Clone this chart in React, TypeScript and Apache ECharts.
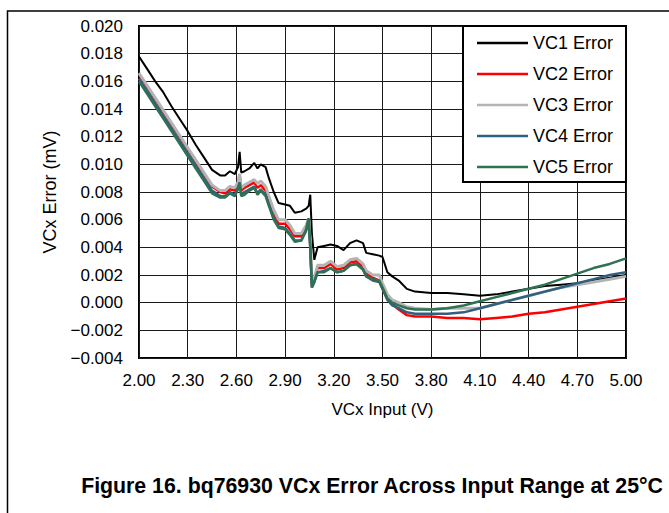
import React, { useEffect, useRef } from "react";
import * as echarts from "echarts";

const X_MIN = 2.0;
const X_MAX = 5.0;
const X_STEP = 0.3;
const Y_MIN = -0.004;
const Y_MAX = 0.02;
const Y_STEP = 0.002;

const seriesNames = ["VC1 Error", "VC2 Error", "VC3 Error", "VC4 Error", "VC5 Error"];
const seriesColors = ["#000000", "#ff0000", "#b4b4b4", "#30607f", "#2f7152"];
const seriesWidths = [2, 2.5, 3, 2.5, 2.5];

const vcxInput = [
  2.0, 2.05, 2.1, 2.15, 2.2, 2.25, 2.3, 2.35, 2.4, 2.45, 2.5, 2.53, 2.56, 2.59, 2.61, 2.62, 2.63, 2.65,
  2.68, 2.71, 2.73, 2.75, 2.78, 2.8, 2.83, 2.86, 2.9, 2.93, 2.96, 3.0, 3.03, 3.045, 3.055, 3.065, 3.08,
  3.1, 3.14, 3.18, 3.22, 3.26, 3.3, 3.34, 3.38, 3.4, 3.44, 3.48, 3.5, 3.53, 3.56, 3.6, 3.65, 3.7, 3.8,
  3.9, 4.0, 4.1, 4.2, 4.3, 4.4, 4.5, 4.6, 4.7, 4.8, 4.9, 5.0,
];

const vc1Error = [
  0.0178, 0.0169, 0.016, 0.0152, 0.0142, 0.0133, 0.0124, 0.0114, 0.0105, 0.0096, 0.0092, 0.0092, 0.0095,
  0.0093, 0.0098, 0.0109, 0.0094, 0.0095, 0.0097, 0.0101, 0.0097, 0.01, 0.0098, 0.009, 0.008, 0.0072,
  0.0071, 0.007, 0.0065, 0.0066, 0.0068, 0.007, 0.0078, 0.005, 0.0031, 0.004, 0.0041, 0.0042, 0.0041,
  0.0038, 0.0043, 0.0045, 0.0043, 0.0036, 0.0035, 0.0034, 0.0033, 0.0022, 0.0019, 0.0016, 0.001, 0.0008,
  0.0007, 0.0007, 0.0006, 0.0005, 0.0006, 0.0008, 0.001, 0.0012, 0.0013, 0.0014, 0.0016, 0.0018, 0.002,
];

const vc2Error = [
  0.0165, 0.0156, 0.0147, 0.0138, 0.0129, 0.012, 0.0111, 0.0102, 0.0093, 0.0084, 0.008, 0.0079, 0.0082,
  0.0081, 0.0086, 0.0093, 0.0081, 0.0083, 0.0085, 0.0087, 0.0083, 0.0085, 0.0081, 0.0074, 0.0064, 0.0057,
  0.0057, 0.0053, 0.0048, 0.0048, 0.0054, 0.0058, 0.0043, 0.0013, 0.0017, 0.0025, 0.0025, 0.0028, 0.0024,
  0.0025, 0.0029, 0.003, 0.0026, 0.0021, 0.0018, 0.0016, 0.001, 0.0003, -0.0001, -0.0005, -0.0009, -0.001,
  -0.001, -0.0011, -0.0011, -0.0012, -0.0011, -0.001, -0.0008, -0.0007, -0.0005, -0.0003, -0.0001, 0.0001,
  0.0003,
];

const vc3Error = [
  0.0166, 0.0157, 0.0148, 0.0139, 0.013, 0.0121, 0.0112, 0.0103, 0.0094, 0.0085, 0.0081, 0.0081, 0.0084,
  0.0083, 0.0087, 0.0093, 0.0083, 0.0085, 0.0087, 0.0089, 0.0086, 0.0088, 0.0084, 0.0077, 0.0067, 0.006,
  0.006, 0.0056, 0.005, 0.005, 0.0056, 0.0061, 0.0045, 0.0016, 0.0018, 0.0027, 0.0027, 0.003, 0.0026,
  0.0027, 0.0031, 0.0032, 0.0028, 0.0023, 0.002, 0.002, 0.0014, 0.0006, 0.0002, 0.0, -0.0003, -0.0004,
  -0.0005, -0.0004, -0.0004, -0.0004, -0.0001, 0.0002, 0.0005, 0.0008, 0.0011, 0.0013, 0.0015, 0.0017,
  0.0019,
];

const vc4Error = [
  0.0162, 0.0153, 0.0144, 0.0135, 0.0126, 0.0117, 0.0108, 0.0099, 0.009, 0.0081, 0.0077, 0.0077, 0.008,
  0.0078, 0.0083, 0.0087, 0.0078, 0.008, 0.0082, 0.0084, 0.0079, 0.0082, 0.0078, 0.0071, 0.0061, 0.0055,
  0.0054, 0.005, 0.0045, 0.0045, 0.0052, 0.006, 0.004, 0.0011, 0.0015, 0.0022, 0.0023, 0.0025, 0.0022,
  0.0023, 0.0027, 0.0028, 0.0024, 0.0019, 0.0016, 0.0015, 0.001, 0.0002, -0.0002, -0.0004, -0.0007,
  -0.0008, -0.0008, -0.0008, -0.0007, -0.0004, -0.0001, 0.0002, 0.0005, 0.0008, 0.0011, 0.0014, 0.0017,
  0.002, 0.0022,
];

const vc5Error = [
  0.016, 0.0151, 0.0142, 0.0133, 0.0124, 0.0115, 0.0106, 0.0097, 0.0088, 0.0079, 0.0076, 0.0076, 0.0079,
  0.0077, 0.0082, 0.0086, 0.0077, 0.0078, 0.0081, 0.0083, 0.0078, 0.0081, 0.0077, 0.007, 0.006, 0.0054,
  0.0053, 0.0049, 0.0044, 0.0045, 0.0053, 0.0061, 0.004, 0.0011, 0.0015, 0.0022, 0.0022, 0.0025, 0.0022,
  0.0023, 0.0027, 0.0028, 0.0024, 0.0019, 0.0017, 0.0016, 0.0011, 0.0003, 0.0, -0.0002, -0.0004, -0.0005,
  -0.0005, -0.0004, -0.0002, 0.0001, 0.0004, 0.0007, 0.001, 0.0013, 0.0017, 0.0021, 0.0025, 0.0028,
  0.0032,
];

const allSeries = [vc1Error, vc2Error, vc3Error, vc4Error, vc5Error];

const titleText = "Figure 16. bq76930 VCx Error Across Input Range at 25°C";
const FONT = "Arial, 'Liberation Sans', sans-serif";

export default function App() {
  const ref = useRef<HTMLDivElement>(null);

  useEffect(() => {
    document.body.style.margin = "0";
    if (!ref.current) return;
    const chart = echarts.init(ref.current, undefined, { renderer: "svg" });

    const option = {
      animation: false,
      backgroundColor: "#ffffff",
      textStyle: { fontFamily: FONT },
      grid: {
        left: 139,
        right: 43,
        top: 26,
        bottom: 155,
        show: true,
        borderColor: "#000",
        borderWidth: 2,
        backgroundColor: "transparent",
      },
      xAxis: {
        type: "value",
        min: 0,
        max: X_MAX - X_MIN,
        interval: X_STEP,
        name: "VCx Input (V)",
        nameLocation: "middle",
        nameGap: 43,
        nameTextStyle: { fontSize: 17, color: "#000", fontFamily: FONT },
        axisLine: { show: false },
        axisTick: { show: false },
        axisLabel: {
          fontSize: 17,
          color: "#000",
          margin: 14,
          fontFamily: FONT,
          formatter: (v: number) => (v + X_MIN).toFixed(2),
        },
        splitLine: { show: true, lineStyle: { color: "#1a1a1a", width: 1 } },
      },
      yAxis: {
        type: "value",
        min: Y_MIN,
        max: Y_MAX,
        interval: Y_STEP,
        name: "VCx Error (mV)",
        nameLocation: "middle",
        nameGap: 80,
        nameTextStyle: { fontSize: 18, color: "#000", fontFamily: FONT },
        axisLine: { show: false },
        axisTick: { show: false },
        axisLabel: {
          fontSize: 17,
          color: "#000",
          margin: 16,
          fontFamily: FONT,
          formatter: (v: number) => {
            const s = Math.abs(v).toFixed(3);
            return v < -1e-9 ? "\u2212" + s : s;
          },
        },
        splitLine: { show: true, lineStyle: { color: "#1a1a1a", width: 1 } },
      },
      legend: {
        show: true,
        orient: "vertical",
        left: 463,
        top: 26,
        padding: [7, 13, 5, 14],
        itemGap: 11,
        itemWidth: 51,
        itemHeight: 2.5,
        icon: "rect",
        backgroundColor: "#ffffff",
        borderColor: "#000",
        borderWidth: 2,
        borderRadius: 0,
        textStyle: { fontSize: 18, color: "#000", lineHeight: 20, fontFamily: FONT },
        data: seriesNames,
      },
      graphic: [
        {
          type: "rect",
          shape: { x: 7.5, y: 11, width: 700, height: 600 },
          style: { fill: "none", stroke: "#000", lineWidth: 1.5 },
          silent: true,
          z: -10,
        },
        {
          type: "text",
          x: 372,
          y: 486,
          style: {
            text: titleText,
            fontSize: 21.3,
            fontWeight: "bold",
            fontFamily: FONT,
            fill: "#000",
            align: "center",
            verticalAlign: "middle",
          },
        },
      ],
      series: allSeries.map((vals, i) => ({
        name: seriesNames[i],
        type: "line",
        showSymbol: false,
        symbol: "none",
        smooth: false,
        color: seriesColors[i],
        lineStyle: { color: seriesColors[i], width: seriesWidths[i] },
        itemStyle: { color: seriesColors[i] },
        data: vcxInput.map((x, j) => [x - X_MIN, vals[j]]),
        z: 2 + i,
      })),
    };

    chart.setOption(option as any);
    return () => chart.dispose();
  }, []);

  return <div ref={ref} style={{ width: 669, height: 513 }} />;
}
